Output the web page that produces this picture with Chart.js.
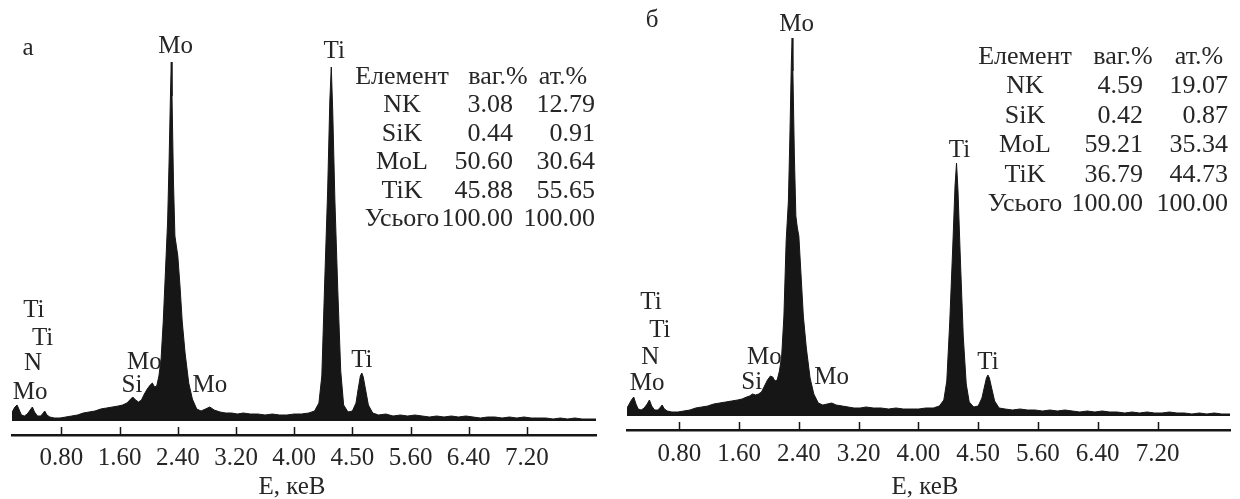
<!DOCTYPE html>
<html>
<head>
<meta charset="utf-8">
<script src="https://cdn.jsdelivr.net/npm/chart.js@4.4.1/dist/chart.umd.min.js"></script>
<style>
  html, body { margin: 0; padding: 0; background: #fff; }
  #wrap { position: relative; width: 1240px; height: 499px; }
  #wrap canvas { position: absolute; top: 0; }
</style>
</head>
<body>
<div id="wrap">
  <canvas id="spectrumA" width="620" height="499" style="left:0"></canvas>
  <canvas id="spectrumB" width="620" height="499" style="left:620px"></canvas>
</div>
<script>
(function() {

// energy channels, keV
var energies = [
    0.10, 0.13, 0.16, 0.19, 0.22, 0.25, 0.29, 0.33, 0.37, 0.40,
    0.43, 0.47, 0.51, 0.54, 0.57, 0.60, 0.64, 0.70, 0.78, 0.86,
    0.94, 1.02, 1.10, 1.18, 1.26, 1.34, 1.42, 1.50, 1.58, 1.64,
    1.70, 1.74, 1.78, 1.82, 1.86, 1.90, 1.94, 1.98, 2.02, 2.05,
    2.08, 2.11, 2.14, 2.17, 2.20, 2.23, 2.26, 2.28, 2.30, 2.31,
    2.32, 2.34, 2.36, 2.38, 2.40, 2.43, 2.46, 2.50, 2.55, 2.60,
    2.66, 2.72, 2.78, 2.84, 2.90, 2.98, 3.06, 3.14, 3.22, 3.30,
    3.40, 3.50, 3.60, 3.70, 3.80, 3.90, 4.00, 4.10, 4.20, 4.28,
    4.34, 4.38, 4.42, 4.46, 4.49, 4.51, 4.53, 4.56, 4.60, 4.64,
    4.68, 4.74, 4.80, 4.85, 4.88, 4.91, 4.93, 4.95, 4.98, 5.02,
    5.08, 5.16, 5.26, 5.36, 5.46, 5.56, 5.66, 5.76, 5.86, 5.96,
    6.06, 6.16, 6.26, 6.36, 6.46, 6.56, 6.66, 6.76, 6.86, 6.96,
    7.06, 7.16, 7.26, 7.36, 7.46, 7.56, 7.66, 7.76, 7.86, 7.96,
    8.06, 8.17
];

// intensity, arb. units (sample а)
var countsA = [
    6, 10, 14, 16, 11, 6, 5, 7, 11, 14,
    9, 5, 5, 7, 10, 6, 4, 3, 3, 4,
    5, 6, 8, 9, 10, 12, 13, 14, 15, 16,
    18, 21, 24, 21, 19, 21, 27, 32, 36, 38,
    34, 35, 45, 62, 100, 150, 200, 260, 330, 359,
    325, 240, 185, 175, 165, 135, 100, 68, 38, 22,
    12, 10, 12, 14, 11, 9, 8, 8, 7, 8,
    7, 7, 6, 7, 6, 6, 7, 7, 8, 10,
    18, 45, 140, 230, 320, 354, 310, 220, 130, 50,
    16, 9, 10, 18, 32, 45, 48, 44, 32, 16,
    8, 6, 7, 5, 6, 5, 6, 5, 4, 5,
    4, 5, 4, 5, 4, 3, 4, 4, 3, 4,
    3, 4, 3, 3, 3, 2, 3, 2, 3, 2,
    2, 2
];

// intensity, arb. units (sample б)
var countsB = [
    8, 12, 16, 19, 12, 7, 6, 8, 12, 16,
    10, 6, 6, 8, 11, 7, 5, 4, 4, 5,
    6, 8, 9, 10, 12, 13, 14, 15, 16, 17,
    19, 20, 22, 21, 22, 24, 30, 36, 40, 39,
    35, 36, 45, 60, 100, 175, 215, 280, 355, 378,
    345, 260, 200, 188, 180, 140, 100, 68, 38, 22,
    13, 11, 12, 13, 11, 10, 9, 8, 8, 9,
    8, 8, 7, 8, 7, 7, 7, 8, 8, 10,
    16, 35, 95, 170, 230, 253, 225, 160, 80, 32,
    14, 9, 10, 18, 28, 38, 41, 38, 28, 15,
    8, 7, 6, 7, 6, 6, 5, 6, 5, 6,
    5, 4, 5, 4, 5, 4, 4, 3, 4, 3,
    4, 3, 3, 4, 3, 3, 2, 3, 2, 3,
    2, 2
];

var tickValues = [0.8, 1.6, 2.4, 3.2, 4.0, 4.8, 5.6, 6.4, 7.2];
var tickLabels = ['0.80', '1.60', '2.40', '3.20', '4.00', '4.50', '5.60', '6.40', '7.20'];

var elements = ['NK', 'SiK', 'MoL', 'TiK', 'Усього'];
var wtA = [3.08, 0.44, 50.60, 45.88, 100.00];
var atA = [12.79, 0.91, 30.64, 55.65, 100.00];
var wtB = [4.59, 0.42, 59.21, 36.79, 100.00];
var atB = [19.07, 0.87, 35.34, 44.73, 100.00];

// line markers: name and energy (keV) the label is centred on
var peakNames = ['Mo', 'Ti', 'Ti', 'Ti', 'N', 'Mo', 'Mo', 'Si', 'Mo', 'Ti'];
var peakEnergies = [2.37, 4.55, 0.42, 0.54, 0.41, 0.37, 1.94, 1.77, 2.84, 4.93];

var ink = '#161616';
var textColor = '#262626';
var serif = '"Liberation Serif", "Times New Roman", serif';

var panels = [{
    canvas: 'spectrumA',
    letter: 'а',
    counts: countsA, wt: wtA, at: atA,
    xMin: 0.12, xMax: 8.15,
    padding: {left: 12, right: 24, top: 40, bottom: 0},
    axisHeight: 64, tickPad: 8,
    letterPos: [28, 48],
    titlePos: [292, 487],
    peakY: [46, 51, 310, 338, 363, 392, 362, 385, 385, 360],
    table: {y: 77, step: 28.5, elemX: 402, wtX: 513, atX: 595, wtHead: 498, atHead: 563}
}, {
    canvas: 'spectrumB',
    letter: 'б',
    counts: countsB, wt: wtB, at: atB,
    xMin: 0.10, xMax: 8.17,
    padding: {left: 7, right: 10, top: 35, bottom: 0},
    axisHeight: 69, tickPad: 9,
    letterPos: [32, 20],
    titlePos: [305, 487],
    peakY: [24, 150, 302, 330, 357, 383, 357, 382, 377, 362],
    table: {y: 57, step: 29.5, elemX: 405, wtX: 523, atX: 608, wtHead: 503, atHead: 579}
}];

// short tick marks standing up from the axis line
var innerTicks = {
    id: 'innerTicks',
    afterDatasetsDraw: function(chart) {
        var ctx = chart.ctx;
        var x = chart.scales.x;
        ctx.save();
        ctx.strokeStyle = ink;
        ctx.lineWidth = 1.5;
        ctx.beginPath();
        x.ticks.forEach(function(t) {
            var px = Math.round(x.getPixelForValue(t.value)) + 0.5;
            ctx.moveTo(px, x.top - 8);
            ctx.lineTo(px, x.top);
        });
        ctx.stroke();
        ctx.restore();
    }
};

// element labels, panel letter, axis caption and composition table
function panelText(p) {
    return {
        id: 'panelText',
        afterDraw: function(chart) {
            var ctx = chart.ctx;
            var x = chart.scales.x;
            var t = p.table;
            ctx.save();
            ctx.fillStyle = textColor;
            ctx.textBaseline = 'middle';
            ctx.textAlign = 'center';
            ctx.font = '25px ' + serif;
            ctx.fillText(p.letter, p.letterPos[0], p.letterPos[1]);
            for (var i = 0; i < peakNames.length; i++) {
                ctx.fillText(peakNames[i], x.getPixelForValue(peakEnergies[i]), p.peakY[i]);
            }
            ctx.fillText('E, кеВ', p.titlePos[0], p.titlePos[1]);

            ctx.font = '26px ' + serif;
            ctx.fillText('Елемент', t.elemX, t.y);
            ctx.fillText('ваг.%', t.wtHead, t.y);
            ctx.fillText('ат.%', t.atHead, t.y);
            for (var r = 0; r < elements.length; r++) {
                var y = t.y + t.step * (r + 1);
                ctx.textAlign = 'center';
                ctx.fillText(elements[r], t.elemX, y);
                ctx.textAlign = 'right';
                ctx.fillText(p.wt[r].toFixed(2), t.wtX, y);
                ctx.fillText(p.at[r].toFixed(2), t.atX, y);
            }
            ctx.restore();
        }
    };
}

function drawPanel(p) {
    var points = energies.map(function(e, i) {
        return {x: e, y: p.counts[i]};
    });

    return new Chart(document.getElementById(p.canvas), {
        type: 'line',
        data: {
            datasets: [{
                data: points,
                borderColor: ink,
                backgroundColor: ink,
                borderWidth: 1,
                pointRadius: 0,
                tension: 0,
                fill: 'origin'
            }]
        },
        options: {
            responsive: false,
            animation: false,
            devicePixelRatio: 1,
            layout: {padding: p.padding},
            plugins: {
                legend: {display: false},
                tooltip: {enabled: false}
            },
            scales: {
                x: {
                    type: 'linear',
                    min: p.xMin,
                    max: p.xMax,
                    afterBuildTicks: function(scale) {
                        scale.ticks = tickValues.map(function(v) { return {value: v}; });
                    },
                    afterFit: function(scale) {
                        scale.height = p.axisHeight;
                    },
                    grid: {display: false, drawTicks: false},
                    border: {display: true, color: ink, width: 2.5},
                    ticks: {
                        autoSkip: false,
                        maxRotation: 0,
                        padding: p.tickPad,
                        color: textColor,
                        font: {family: serif, size: 25},
                        callback: function(value, index) {
                            return tickLabels[index];
                        }
                    }
                },
                y: {
                    display: false,
                    min: -14,
                    max: 381
                }
            }
        },
        plugins: [innerTicks, panelText(p)]
    });
}

window.onload = function() {
    panels.forEach(drawPanel);
};

})();
</script>
</body>
</html>
